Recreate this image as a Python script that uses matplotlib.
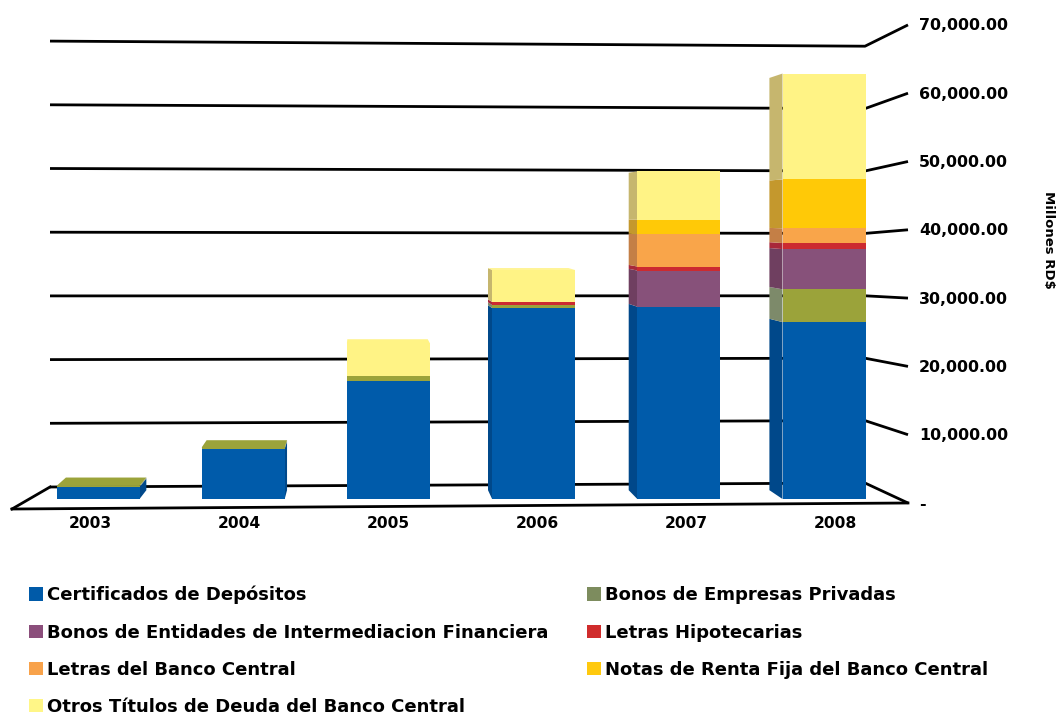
import matplotlib
matplotlib.use("Agg")
import matplotlib.pyplot as plt
from matplotlib.patches import Polygon, Patch

# ---------------- data ----------------
years = ["2003", "2004", "2005", "2006", "2007", "2008"]
series_names = [
    "Certificados de Depósitos",
    "Bonos de Empresas Privadas",
    "Bonos de Entidades de Intermediacion Financiera",
    "Letras Hipotecarias",
    "Letras del Banco Central",
    "Notas de Renta Fija del Banco Central",
    "Otros Títulos de Deuda del Banco Central",
]
certificados = [1800, 7500, 17600, 28500, 28700, 26400]
bonos_empresas = [150, 200, 750, 450, 0, 4900]
bonos_entidades = [0, 0, 0, 0, 5400, 6000]
letras_hipotecarias = [0, 0, 0, 450, 600, 900]
letras_bc = [0, 0, 0, 0, 4800, 2200]
notas_renta_fija = [0, 0, 0, 0, 2200, 7300]
otros_titulos = [0, 0, 4900, 4800, 7200, 15800]
tick_values = [0, 10000, 20000, 30000, 40000, 50000, 60000, 70000]
axis_title = "Millones RD$"

series = [certificados, bonos_empresas, bonos_entidades, letras_hipotecarias,
          letras_bc, notas_renta_fija, otros_titulos]

# ---------------- style ----------------
front_colors = ["#005BAA", "#9BA33A", "#87517A", "#CC2A30", "#F9A54A", "#FFC907", "#FFF385"]
side_colors = ["#00488A", "#7D8A6A", "#6F3F60", "#A8283A", "#C47F46", "#C4982D", "#C6B66E"]
legend_colors = ["#005AA8", "#7D8C5E", "#8B4E7B", "#D02C2C", "#F8A24A", "#FFC90E", "#FFF687"]

W, H = 1058, 715
fig = plt.figure(figsize=(W / 100, H / 100), dpi=100)
ax = fig.add_axes([0, 0, 1, 1])
ax.set_axis_off()

# linear mapping: category index -> pixel x, value -> pixel y
X0, DX = 98.0, 145.2
Y0, PPU = 499.0, 0.0067
ax.set_xlim((0 - X0) / DX, (W - X0) / DX)
ax.set_ylim((Y0 - H) / PPU, (Y0 - 0) / PPU)


def P(px, py):
    return ((px - X0) / DX, (Y0 - py) / PPU)


font = "DejaVu Sans"

# ---------------- walls / gridlines ----------------
for v in tick_values:
    pts = [P(50, 487 - 0.00637 * v), P(865, 483 - 0.00624 * v), P(908, 503 - 0.00683 * v)]
    xs, ys = zip(*pts)
    ax.plot(xs, ys, color="black", lw=2.0, zorder=1, solid_capstyle="butt")
    lab = "-" if v == 0 else f"{v:,.2f}"
    tx, ty = P(919, 504 - 0.00683 * v)
    ax.text(tx, ty, lab, ha="left", va="center", fontsize=11.4,
            fontweight="bold", family=font, color="black")

# floor front edges
for a, b in [((12, 509), (908, 503)), ((12, 509), (50, 487))]:
    (x1, y1), (x2, y2) = P(*a), P(*b)
    ax.plot([x1, x2], [y1, y2], color="black", lw=2.0, zorder=1)

tx, ty = P(1049, 240)
ax.text(tx, ty, axis_title, rotation=270, ha="center", va="center",
        fontsize=9.5, fontweight="bold", family=font)

# ---------------- bars (pseudo 3-D) ----------------
xpos = list(range(len(years)))
bw = 83.0 / DX
vpx, vpy = P(360, 215)
d = 0.031

bottoms = [0.0] * len(years)
for k, vals in enumerate(series):
    ax.bar(xpos, vals, bottom=bottoms, width=bw, color=front_colors[k],
           edgecolor="none", zorder=3, label=series_names[k])
    for i, v in enumerate(vals):
        if v <= 0:
            continue
        y0, y1 = bottoms[i], bottoms[i] + v
        xl, xr = xpos[i] - bw / 2, xpos[i] + bw / 2
        for xe in (xl, xr):
            if (xe == xl and xe > vpx) or (xe == xr and xe < vpx):
                bx = xe + d * (vpx - xe)
                poly = [(xe, y0), (xe, y1), (bx, y1 + d * (vpy - y1)), (bx, y0 + d * (vpy - y0))]
                ax.add_patch(Polygon(poly, closed=True, facecolor=side_colors[k],
                                     edgecolor="none", zorder=2))
    bottoms = [b + v for b, v in zip(bottoms, vals)]

# top faces
for i, top in enumerate(bottoms):
    if top < vpy:
        k = max(j for j in range(len(series)) if series[j][i] > 0)
        xl, xr = xpos[i] - bw / 2, xpos[i] + bw / 2
        yb = top + d * (vpy - top)
        poly = [(xl, top), (xr, top), (xr + d * (vpx - xr), yb), (xl + d * (vpx - xl), yb)]
        ax.add_patch(Polygon(poly, closed=True, facecolor=front_colors[k],
                             edgecolor="none", zorder=2.5))

# category labels
for i, yr in enumerate(years):
    lx = xpos[i] + (xpos[i] - 2) * 0.027
    ax.text(lx, P(0, 524)[1], yr, ha="center", va="center", fontsize=11.2,
            fontweight="bold", family=font)

# ---------------- legend ----------------
order = [0, 2, 4, 6, 1, 3, 5]
handles = [Patch(facecolor=legend_colors[j], edgecolor="none") for j in order]
labels = [series_names[j] for j in order]
fig.legend(handles, labels, loc="upper left", bbox_to_anchor=(29 / W, 1 - 586 / H),
           ncol=2, frameon=False, prop={"family": font, "weight": "bold", "size": 13.0},
           handlelength=0.78, handleheight=0.78, handletextpad=0.22,
           labelspacing=1.06, columnspacing=2.15, borderaxespad=0, borderpad=0)

fig.savefig("out.png", dpi=100)
